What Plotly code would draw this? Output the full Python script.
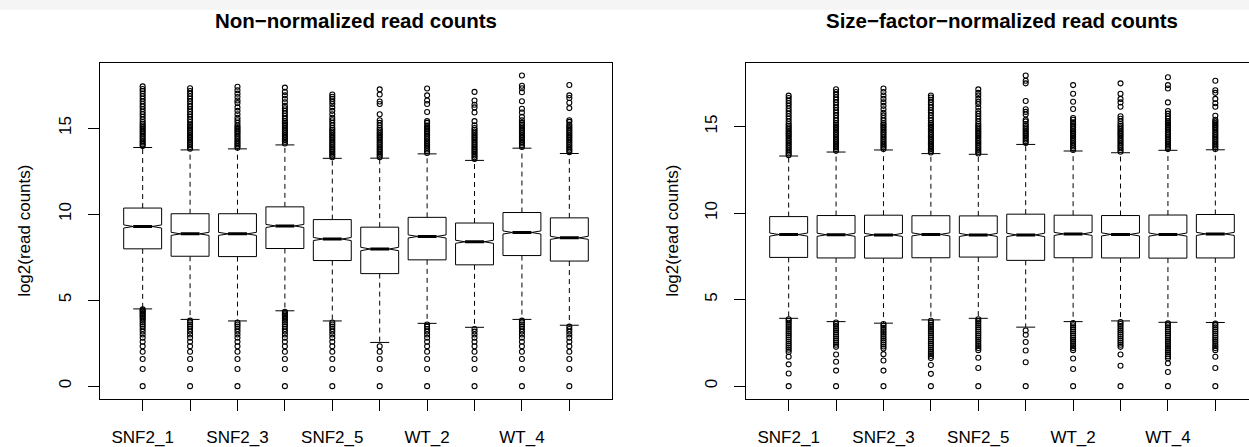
import plotly.graph_objects as go

# ---------------- data ----------------
samples = ["SNF2_1", "SNF2_2", "SNF2_3", "SNF2_4", "SNF2_5",
           "WT_1", "WT_2", "WT_3", "WT_4", "WT_5"]
positions = [1, 2, 3, 4, 5, 6, 7, 8, 9, 10]
tick_labels = ["SNF2_1", "", "SNF2_3", "", "SNF2_5", "", "WT_2", "", "WT_4", ""]
y_ticks = [0, 5, 10, 15]

# Non-normalized read counts (log2)
raw_q1 = [7.98, 7.55, 7.53, 8.00, 7.30, 6.54, 7.34, 7.05, 7.59, 7.27]
raw_median = [9.28, 8.85, 8.85, 9.31, 8.55, 7.97, 8.70, 8.39, 8.93, 8.62]
raw_q3 = [10.35, 10.02, 10.02, 10.42, 9.68, 9.24, 9.81, 9.48, 10.09, 9.78]
raw_lower_whisker = [4.49, 3.88, 3.79, 4.38, 3.79, 2.54, 3.65, 3.42, 3.88, 3.54]
raw_upper_whisker = [13.87, 13.73, 13.79, 14.02, 13.24, 13.25, 13.50, 13.12, 13.83, 13.52]
raw_notch = [0.09, 0.09, 0.09, 0.09, 0.09, 0.1, 0.09, 0.09, 0.09, 0.09]

raw_upper_out = [
    [13.95, 14.05, 14.15, 14.25, 14.35, 14.45, 14.55, 14.65, 14.75, 14.85, 14.95, 15.05, 15.15,
     15.25, 15.35, 15.5, 15.65, 15.8, 15.95, 16.1, 16.25, 16.4, 16.55, 16.7, 16.85, 17.0, 17.15,
     17.27, 17.42],
    [13.8, 13.9, 14.0, 14.1, 14.2, 14.3, 14.4, 14.5, 14.6, 14.7, 14.8, 14.9, 15.0, 15.1, 15.2,
     15.35, 15.5, 15.65, 15.8, 15.95, 16.1, 16.25, 16.4, 16.55, 16.7, 16.85, 17.0, 17.15, 17.31],
    [13.85, 13.95, 14.05, 14.15, 14.25, 14.35, 14.45, 14.55, 14.65, 14.75, 14.85, 14.95, 15.05,
     15.15, 15.3, 15.45, 15.6, 15.8, 16.0, 16.2, 16.45, 16.6, 16.8, 17.0, 17.2, 17.4],
    [14.1, 14.2, 14.3, 14.4, 14.5, 14.6, 14.7, 14.8, 14.9, 15.0, 15.1, 15.2, 15.3, 15.4, 15.55,
     15.7, 15.85, 16.0, 16.15, 16.3, 16.5, 16.7, 16.9, 17.1, 17.35],
    [13.3, 13.4, 13.5, 13.6, 13.7, 13.8, 13.9, 14.0, 14.1, 14.2, 14.3, 14.4, 14.5, 14.6, 14.7,
     14.8, 14.9, 15.0, 15.15, 15.3, 15.45, 15.6, 15.8, 16.0, 16.2, 16.4, 16.55, 16.7, 16.82, 16.95],
    [13.3, 13.4, 13.5, 13.6, 13.7, 13.8, 13.9, 14.0, 14.1, 14.2, 14.3, 14.4, 14.5, 14.6, 14.7,
     14.8, 14.9, 15.0, 15.15, 15.3, 15.45, 15.8, 16.4, 16.54, 16.95, 17.25],
    [13.55, 13.65, 13.75, 13.85, 13.95, 14.05, 14.15, 14.25, 14.35, 14.45, 14.55, 14.65, 14.75,
     14.85, 14.95, 15.05, 15.15, 15.3, 15.4, 15.93, 16.4, 16.6, 16.9, 17.3],
    [13.2, 13.3, 13.4, 13.5, 13.6, 13.7, 13.8, 13.9, 14.0, 14.1, 14.2, 14.3, 14.4, 14.5, 14.6,
     14.7, 14.8, 14.9, 15.0, 15.16, 15.4, 15.9, 16.2, 16.35, 16.6, 17.1],
    [13.9, 14.0, 14.1, 14.2, 14.3, 14.4, 14.5, 14.6, 14.7, 14.8, 14.9, 15.0, 15.1, 15.2, 15.3,
     15.45, 15.65, 15.9, 16.12, 16.56, 17.08, 17.31, 17.46, 18.05],
    [13.6, 13.7, 13.8, 13.9, 14.0, 14.1, 14.2, 14.3, 14.4, 14.5, 14.6, 14.7, 14.8, 14.9, 15.0,
     15.1, 15.2, 15.36, 15.45, 16.16, 16.47, 16.75, 16.9, 17.5],
]
raw_lower_out = [
    [0, 1, 1.58, 2, 2.32, 2.58, 2.81, 3, 3.17, 3.32, 3.46, 3.58, 3.7, 3.81, 3.91, 4, 4.09, 4.17,
     4.25, 4.32, 4.39, 4.46],
    [0, 1, 1.58, 2, 2.32, 2.58, 2.81, 3, 3.17, 3.32, 3.46, 3.58, 3.7, 3.81],
    [0, 1, 1.58, 2, 2.32, 2.58, 2.81, 3, 3.17, 3.32, 3.46, 3.58, 3.7],
    [0, 1, 1.58, 2, 2.32, 2.58, 2.81, 3, 3.17, 3.32, 3.46, 3.58, 3.7, 3.81, 3.91, 4, 4.09, 4.17,
     4.25, 4.32],
    [0, 1, 1.58, 2, 2.32, 2.58, 2.81, 3, 3.17, 3.32, 3.46, 3.58, 3.7],
    [0, 1, 1.58, 2, 2.32],
    [0, 1, 1.58, 2, 2.32, 2.58, 2.81, 3, 3.17, 3.32, 3.46, 3.58],
    [0, 1, 1.58, 2, 2.32, 2.58, 2.81, 3, 3.17, 3.32],
    [0, 1, 1.58, 2, 2.32, 2.58, 2.81, 3, 3.17, 3.32, 3.46, 3.58, 3.7, 3.81],
    [0, 1, 1.58, 2, 2.32, 2.58, 2.81, 3, 3.17, 3.32, 3.46],
]

# Size-factor-normalized read counts (log2)
norm_q1 = [7.44, 7.41, 7.40, 7.42, 7.46, 7.27, 7.42, 7.41, 7.40, 7.41]
norm_median = [8.76, 8.75, 8.74, 8.77, 8.74, 8.74, 8.80, 8.77, 8.76, 8.80]
norm_q3 = [9.80, 9.86, 9.88, 9.85, 9.84, 9.94, 9.88, 9.86, 9.89, 9.92]
norm_lower_whisker = [3.92, 3.73, 3.64, 3.83, 3.92, 3.41, 3.73, 3.77, 3.69, 3.68]
norm_upper_whisker = [13.30, 13.53, 13.65, 13.44, 13.40, 13.97, 13.59, 13.49, 13.63, 13.66]
norm_notch = [0.09, 0.09, 0.09, 0.09, 0.09, 0.1, 0.09, 0.09, 0.09, 0.09]

norm_upper_out = [
    [13.35, 13.45, 13.55, 13.65, 13.75, 13.85, 13.95, 14.05, 14.15, 14.25, 14.35, 14.45, 14.55,
     14.65, 14.75, 14.85, 14.95, 15.05, 15.15, 15.3, 15.45, 15.6, 15.75, 15.9, 16.05, 16.2,
     16.35, 16.5, 16.65, 16.79],
    [13.6, 13.7, 13.8, 13.9, 14.0, 14.1, 14.2, 14.3, 14.4, 14.5, 14.6, 14.7, 14.8, 14.9, 15.0,
     15.1, 15.2, 15.35, 15.5, 15.65, 15.8, 15.95, 16.1, 16.25, 16.4, 16.55, 16.7, 16.85, 17.0, 17.16],
    [13.7, 13.8, 13.9, 14.0, 14.1, 14.2, 14.3, 14.4, 14.5, 14.6, 14.7, 14.8, 14.9, 15.0, 15.1,
     15.2, 15.35, 15.5, 15.65, 15.8, 16.0, 16.2, 16.4, 16.6, 16.8, 17.0, 17.2],
    [13.5, 13.6, 13.7, 13.8, 13.9, 14.0, 14.1, 14.2, 14.3, 14.4, 14.5, 14.6, 14.7, 14.8, 14.9,
     15.0, 15.1, 15.2, 15.35, 15.5, 15.65, 15.8, 15.95, 16.1, 16.25, 16.4, 16.55, 16.68, 16.8],
    [13.45, 13.55, 13.65, 13.75, 13.85, 13.95, 14.05, 14.15, 14.25, 14.35, 14.45, 14.55, 14.65,
     14.75, 14.85, 14.95, 15.05, 15.15, 15.3, 15.45, 15.6, 15.75, 15.9, 16.1, 16.3, 16.44, 16.6,
     16.8, 16.95, 17.15],
    [14.05, 14.15, 14.25, 14.35, 14.45, 14.55, 14.65, 14.75, 14.85, 14.95, 15.05, 15.15, 15.3,
     15.4, 15.7, 15.85, 16.0, 16.48, 17.5, 17.65, 17.95],
    [13.65, 13.75, 13.85, 13.95, 14.05, 14.15, 14.25, 14.35, 14.45, 14.55, 14.65, 14.75, 14.85,
     14.95, 15.05, 15.15, 15.25, 15.4, 15.5, 16.02, 16.44, 16.9, 17.4],
    [13.55, 13.65, 13.75, 13.85, 13.95, 14.05, 14.15, 14.25, 14.35, 14.45, 14.55, 14.65, 14.75,
     14.85, 14.95, 15.05, 15.15, 15.3, 15.45, 15.6, 16.15, 16.4, 16.6, 16.9, 17.5],
    [13.7, 13.8, 13.9, 14.0, 14.1, 14.2, 14.3, 14.4, 14.5, 14.6, 14.7, 14.8, 14.9, 15.0, 15.1,
     15.2, 15.3, 15.45, 15.6, 15.75, 15.9, 16.4, 17.2, 17.4, 17.85],
    [13.7, 13.8, 13.9, 14.0, 14.1, 14.2, 14.3, 14.4, 14.5, 14.6, 14.7, 14.8, 14.9, 15.0, 15.1,
     15.2, 15.3, 15.4, 15.63, 16.15, 16.35, 16.6, 16.95, 17.1, 17.65],
]
norm_lower_out = [
    [0, 0.73, 1.26, 1.7, 1.98, 2.1, 2.22, 2.34, 2.46, 2.58, 2.7, 2.82, 2.94, 3.06, 3.18, 3.3,
     3.42, 3.54, 3.66, 3.78, 3.87],
    [0, 0.9, 1.41, 1.83, 2.27, 2.39, 2.51, 2.63, 2.75, 2.87, 2.99, 3.11, 3.23, 3.35, 3.47, 3.59,
     3.68],
    [0, 0.9, 1.48, 1.85, 2.17, 2.29, 2.41, 2.53, 2.65, 2.77, 2.89, 3.01, 3.13, 3.25, 3.37, 3.49,
     3.59],
    [0, 0.71, 1.22, 1.62, 1.74, 1.86, 1.98, 2.1, 2.22, 2.34, 2.46, 2.58, 2.7, 2.82, 2.94, 3.06,
     3.18, 3.3, 3.42, 3.54, 3.66, 3.78],
    [0, 1.05, 1.64, 2.08, 2.2, 2.32, 2.44, 2.56, 2.68, 2.8, 2.92, 3.04, 3.16, 3.28, 3.4, 3.52,
     3.64, 3.76, 3.87],
    [0, 1.38, 2.06, 2.55, 2.97, 3.22],
    [0, 0.99, 1.6, 2.08, 2.2, 2.32, 2.44, 2.56, 2.68, 2.8, 2.92, 3.04, 3.16, 3.28, 3.4, 3.52,
     3.64],
    [0, 1.18, 1.83, 2.27, 2.39, 2.51, 2.63, 2.75, 2.87, 2.99, 3.11, 3.23, 3.35, 3.47, 3.59, 3.71],
    [0, 0.82, 1.32, 1.6, 1.72, 1.84, 1.96, 2.08, 2.2, 2.32, 2.44, 2.56, 2.68, 2.8, 2.92, 3.04,
     3.16, 3.28, 3.4, 3.52, 3.63],
    [0, 1.05, 1.7, 2.08, 2.2, 2.32, 2.44, 2.56, 2.68, 2.8, 2.92, 3.04, 3.16, 3.28, 3.4, 3.52,
     3.62],
]

titles = ["Non\u2212normalized read counts", "Size\u2212factor\u2212normalized read counts"]
y_title = "log2(read counts)"

# ---------------- styling ----------------
FONT = "Liberation Sans, Arial, Helvetica, sans-serif"
W, H = 1249, 447
BOX_HALF = 0.4        # boxwex 0.8
NOTCH_HALF = 0.2      # box half width at the median (notch.frac 0.5)
STAPLE_HALF = 0.2     # staplewex 0.5

fig = go.Figure()


def add_panel(q1, med, q3, lo, hi, notch, up_out, low_out, xa, ya):
    # whiskers (dashed)
    wx, wy = [], []
    for p, a, b, c, d in zip(positions, q1, q3, lo, hi):
        wx += [p, p, None, p, p, None]
        wy += [b, d, None, a, c, None]
    fig.add_trace(go.Scatter(x=wx, y=wy, mode="lines", xaxis=xa, yaxis=ya,
                             line=dict(color="black", width=1, dash="5px,4px"),
                             hoverinfo="skip"))
    # staples
    sx, sy = [], []
    for p, c, d in zip(positions, lo, hi):
        sx += [p - STAPLE_HALF, p + STAPLE_HALF, None, p - STAPLE_HALF, p + STAPLE_HALF, None]
        sy += [c, c, None, d, d, None]
    fig.add_trace(go.Scatter(x=sx, y=sy, mode="lines", xaxis=xa, yaxis=ya,
                             line=dict(color="black", width=1), hoverinfo="skip"))
    # notched boxes (one closed outline per box)
    for p, a, m, b, n in zip(positions, q1, med, q3, notch):
        bx = [p - BOX_HALF, p + BOX_HALF, p + BOX_HALF, p + NOTCH_HALF, p + BOX_HALF,
              p + BOX_HALF, p - BOX_HALF, p - BOX_HALF, p - NOTCH_HALF, p - BOX_HALF,
              p - BOX_HALF]
        by = [a, a, m - n, m, m + n, b, b, m + n, m, m - n, a]
        fig.add_trace(go.Scatter(x=bx, y=by, mode="lines", fill="toself", fillcolor="white",
                                 xaxis=xa, yaxis=ya, line=dict(color="black", width=1),
                                 hoverinfo="skip"))
    # thick medians
    mx, my = [], []
    for p, m in zip(positions, med):
        mx += [p - NOTCH_HALF, p + NOTCH_HALF, None]
        my += [m, m, None]
    fig.add_trace(go.Scatter(x=mx, y=my, mode="lines", xaxis=xa, yaxis=ya,
                             line=dict(color="black", width=3), hoverinfo="skip"))
    # outliers
    ox, oy = [], []
    for p, u, l in zip(positions, up_out, low_out):
        ox += [p] * (len(u) + len(l))
        oy += list(u) + list(l)
    fig.add_trace(go.Scatter(x=ox, y=oy, mode="markers", xaxis=xa, yaxis=ya,
                             marker=dict(symbol="circle-open", size=5,
                                         color="black", line=dict(width=1.1, color="black")),
                             hoverinfo="skip"))


add_panel(raw_q1, raw_median, raw_q3, raw_lower_whisker, raw_upper_whisker, raw_notch,
          raw_upper_out, raw_lower_out, "x", "y")
add_panel(norm_q1, norm_median, norm_q3, norm_lower_whisker, norm_upper_whisker, norm_notch,
          norm_upper_out, norm_lower_out, "x2", "y2")

# ---------------- axes ----------------
px_per_unit = 512 / 10.8
ydom = [1 - 404 / H, 1 - 64 / H]


def yrange(out_lists):
    mx = max(max(u) for u in out_lists)
    return [-0.04 * mx, mx * 1.04]


common_x = dict(tickmode="array", tickvals=positions, ticktext=tick_labels,
                ticks="outside", ticklen=11, tickwidth=1, tickcolor="black",
                showline=True, linecolor="black", linewidth=1,
                showgrid=False, zeroline=False,
                tickfont=dict(family=FONT, size=17, color="black"),
                ticklabelstandoff=12)
common_y = dict(tickmode="array", tickvals=y_ticks, ticks="outside", ticklen=11,
                tickwidth=1, tickcolor="black", tickangle=-90,
                showline=True, linecolor="black", linewidth=1,
                showgrid=False, zeroline=False,
                tickfont=dict(family=FONT, size=17, color="black"),
                ticklabelstandoff=10)

fig.update_layout(
    width=W, height=H,
    margin=dict(l=0, r=0, t=0, b=0),
    paper_bgcolor="white", plot_bgcolor="white",
    showlegend=False,
    xaxis=dict(domain=[100 / W, 612 / W], range=[0.1, 10.9], mirror=True, anchor="y", **common_x),
    yaxis=dict(domain=ydom, range=yrange(raw_upper_out), mirror=True, anchor="x", **common_y),
    xaxis2=dict(domain=[746 / W, 1.0], range=[0.1, 0.1 + 503 / px_per_unit], mirror=True,
                anchor="y2", **common_x),
    yaxis2=dict(domain=ydom, range=yrange(norm_upper_out), mirror=False, anchor="x2", **common_y),
    shapes=[dict(type="rect", xref="paper", yref="paper", x0=0, x1=1, y0=1 - 10 / H, y1=1,
                 fillcolor="#f5f5f5", line=dict(width=0), layer="below")],
    annotations=[
        dict(text="<b>%s</b>" % titles[0], x=356 / W, y=1 - 21 / H, xref="paper", yref="paper",
             xanchor="center", yanchor="middle", showarrow=False,
             font=dict(family=FONT, size=20.5, color="black")),
        dict(text="<b>%s</b>" % titles[1], x=1002 / W, y=1 - 21 / H, xref="paper", yref="paper",
             xanchor="center", yanchor="middle", showarrow=False,
             font=dict(family=FONT, size=20.5, color="black")),
        dict(text=y_title, x=25 / W, y=1 - 234 / H, xref="paper", yref="paper",
             xanchor="center", yanchor="middle", showarrow=False, textangle=-90,
             font=dict(family=FONT, size=17, color="black")),
        dict(text=y_title, x=673 / W, y=1 - 234 / H, xref="paper", yref="paper",
             xanchor="center", yanchor="middle", showarrow=False, textangle=-90,
             font=dict(family=FONT, size=17, color="black")),
    ],
)

fig.write_html("out.html")
